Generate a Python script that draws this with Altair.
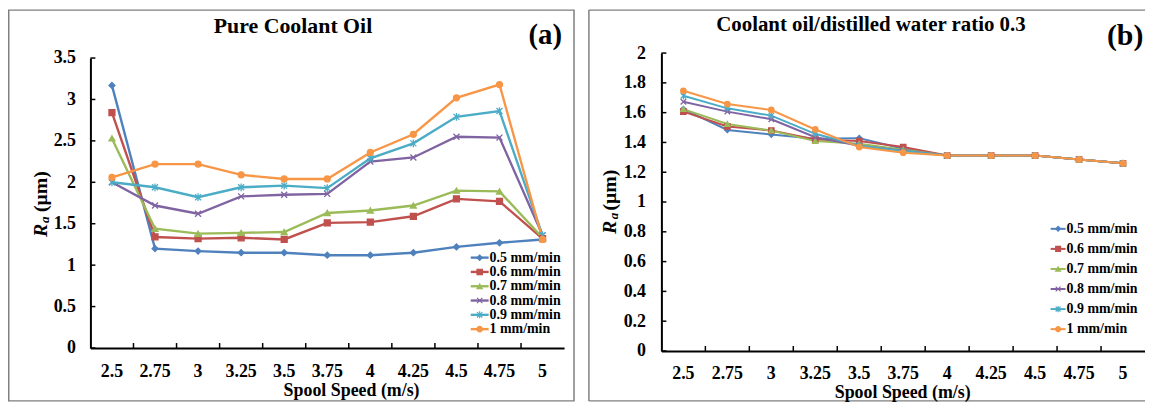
import altair as alt
import pandas as pd

# ---------------- data ----------------
speeds = ["2.5", "2.75", "3", "3.25", "3.5", "3.75", "4", "4.25", "4.5", "4.75", "5"]
series = ["0.5 mm/min", "0.6 mm/min", "0.7 mm/min", "0.8 mm/min", "0.9 mm/min", "1 mm/min"]
colors = ["#4F81BD", "#C0504D", "#9BBB59", "#8064A2", "#4BACC6", "#F79646"]
shapes = ["diamond", "square", "triangle-up",
          "M-1,-1L1,1M-1,1L1,-1",
          "M-1,-1L1,1M-1,1L1,-1M0,-1.3L0,1.3",
          "circle"]

# (a) Pure coolant oil
a_05 = [3.17, 1.20, 1.17, 1.15, 1.15, 1.12, 1.12, 1.15, 1.22, 1.27, 1.31]
a_06 = [2.84, 1.34, 1.32, 1.33, 1.31, 1.51, 1.52, 1.59, 1.80, 1.77, 1.32]
a_07 = [2.53, 1.44, 1.38, 1.39, 1.40, 1.63, 1.66, 1.72, 1.90, 1.89, 1.33]
a_08 = [2.00, 1.72, 1.62, 1.83, 1.85, 1.86, 2.25, 2.30, 2.55, 2.54, 1.36]
a_09 = [2.00, 1.94, 1.82, 1.94, 1.96, 1.93, 2.29, 2.47, 2.79, 2.86, 1.36]
a_10 = [2.06, 2.22, 2.22, 2.09, 2.04, 2.04, 2.36, 2.58, 3.02, 3.18, 1.31]

# (b) Coolant oil / distilled water ratio 0.3
b_05 = [1.624, 1.484, 1.453, 1.425, 1.429, 1.358, 1.312, 1.312, 1.312, 1.286, 1.260]
b_06 = [1.607, 1.507, 1.480, 1.420, 1.409, 1.369, 1.312, 1.312, 1.312, 1.286, 1.260]
b_07 = [1.624, 1.524, 1.480, 1.409, 1.391, 1.351, 1.312, 1.312, 1.312, 1.286, 1.260]
b_08 = [1.673, 1.607, 1.556, 1.435, 1.378, 1.345, 1.312, 1.312, 1.312, 1.286, 1.260]
b_09 = [1.713, 1.629, 1.580, 1.458, 1.378, 1.342, 1.312, 1.312, 1.312, 1.286, 1.260]
b_10 = [1.747, 1.658, 1.618, 1.487, 1.369, 1.331, 1.312, 1.312, 1.312, 1.286, 1.260]

a_ticks = [0, 0.5, 1, 1.5, 2, 2.5, 3, 3.5]
b_ticks = [0, 0.2, 0.4, 0.6, 0.8, 1, 1.2, 1.4, 1.6, 1.8, 2]

FONT = "Liberation Serif"
BOX = "#7f7f7f"
W, H = 1145, 395          # whole drawing area (page minus 8px margin)


def long_df(values):
    rows = []
    for s, vals in zip(series, values):
        for sp, v in zip(speeds, vals):
            rows.append({"speed": sp, "series": s, "ra": v})
    return pd.DataFrame(rows)


def one():
    return alt.Chart(alt.Data(values=[{}]))


def text_layer(txt, x, y, size, angle=0, style="normal", align="center"):
    mk = dict(font=FONT, fontSize=size, fontWeight="bold", fontStyle=style,
              color="black", align=align, baseline="middle")
    if angle:
        mk["angle"] = angle
    return one().mark_text(**mk).encode(
        x=alt.value(x), y=alt.value(y), text=alt.value(txt))


def box_layers(g):
    x1, x2, y1, y2 = g["box"]
    if g["closed"]:
        return [one().mark_rect(fillOpacity=0, stroke=BOX, strokeWidth=1.5).encode(
            x=alt.value(x1), x2=alt.value(x2), y=alt.value(y1), y2=alt.value(y2))]
    rule = dict(color=BOX, strokeWidth=1.5)
    return [
        one().mark_rule(**rule).encode(x=alt.value(x1), x2=alt.value(x2), y=alt.value(y1)),
        one().mark_rule(**rule).encode(x=alt.value(x1), x2=alt.value(x2), y=alt.value(y2)),
        one().mark_rule(**rule).encode(x=alt.value(x1), y=alt.value(y1), y2=alt.value(y2)),
    ]


def panel(values, ticks, ymax, g):
    df = long_df(values)
    px0, px1, py0, py1 = g["plot"]          # left, right, top, bottom (pixels)
    cscale = alt.Scale(domain=series, range=colors)
    sscale = alt.Scale(domain=series, range=shapes)
    xscale = alt.Scale(type="band", range=[px0, px1], paddingInner=0, paddingOuter=0)
    xaxis = alt.Axis(title=None, orient="bottom", offset=py1 - H,
                     labelFont=FONT, labelFontSize=18, labelFontWeight="bold",
                     labelColor="black", labelAngle=0, labelPadding=g["xlp"], ticks=False,
                     domainColor="black", domainWidth=2, grid=False, labelOverlap=False)
    yscale = alt.Scale(domain=[0, ymax], range=[py1, py0], nice=False, zero=True)
    yaxis = alt.Axis(title=None, orient="left", offset=-px0, values=ticks, format=".1~f",
                     labelFont=FONT, labelFontSize=18,
                     labelFontWeight="bold", labelColor="black", labelPadding=g["ylp"],
                     ticks=False, domainColor="black", domainWidth=2, grid=False)
    x = alt.X("speed:N", sort=speeds, bandPosition=0.5, scale=xscale, axis=xaxis)
    y = alt.Y("ra:Q", scale=yscale, axis=yaxis)
    color = alt.Color("series:N", scale=cscale, legend=None)
    stroke = alt.Stroke("series:N", scale=cscale, legend=None)
    shape = alt.Shape("series:N", scale=sscale, legend=None)

    ytick_df = pd.DataFrame({"ra": ticks})
    yt = alt.Chart(ytick_df).mark_rule(color="black", strokeWidth=1.5).encode(
        y=y, x=alt.value(px0), x2=alt.value(px0 + 5))
    xtick_df = pd.DataFrame({"speed": speeds[1:]})
    xt = alt.Chart(xtick_df).mark_rule(color="black", strokeWidth=1.5).encode(
        x=alt.X("speed:N", sort=speeds, bandPosition=0, scale=xscale, axis=xaxis),
        y=alt.value(py1), y2=alt.value(py1 - 5))

    lines = alt.Chart(df).mark_line(strokeWidth=g["lw"]).encode(
        x=x, y=y, color=color, detail="series:N")
    pts = alt.Chart(df).mark_point(filled=True, size=g["ms"], strokeWidth=1.3, opacity=1).encode(
        x=x, y=y, color=color, stroke=stroke, shape=shape)

    # legend
    ldf = pd.DataFrame({"series": series})
    lbase = alt.Chart(ldf).transform_window(idx="row_number()").transform_calculate(
        ly=f"{g['ly0']} + (datum.idx - 1) * {g['ldy']}")
    ly = alt.Y("ly:Q", scale=None)
    lx1, lx2 = g["lx"]
    lrule = lbase.mark_rule(strokeWidth=g["lw"]).encode(
        x=alt.value(lx1), x2=alt.value(lx2), y=ly, color=color)
    lpts = lbase.mark_point(filled=True, size=g["ms"] * 0.8, strokeWidth=1.2, opacity=1).encode(
        x=alt.value((lx1 + lx2) / 2), y=ly, color=color, stroke=stroke, shape=shape)
    ltxt = lbase.mark_text(font=FONT, fontSize=14, fontWeight="bold", color="black",
                           align="left", baseline="middle").encode(
        x=alt.value(lx2 + 1), y=ly, text="series:N")

    tx, ty, ts = g["title"]
    gx, gy, gs = g["tag"]
    xx, xy = g["xtitle"]
    rx, ry, ay, uy = g["ytitle"]
    layers = box_layers(g) + [
        yt, xt, lines, pts, lrule, lpts, ltxt,
        text_layer(g["title_text"], tx, ty, ts),
        text_layer(g["tag_text"], gx, gy, gs),
        text_layer("Spool Speed (m/s)", xx, xy, 18),
        text_layer("R", rx, ry, 20, angle=270, style="italic"),
        text_layer("a", rx + 4, ay, 13, angle=270, style="italic"),
        text_layer("(μm)", rx, uy, 20, angle=270)]
    return alt.layer(*layers)


# all positions below are pixels inside the drawing area (page coords - 8)
ga = dict(plot=(83, 560, 49, 341), xlp=15, ylp=15, closed=True, box=(0.75, 570, 0.75, H - 0.75),
          lw=2.4, ms=36, ly0=250, ldy=14.4, lx=(466, 484),
          title_text="Pure Coolant Oil", title=(287, 17, 22),
          tag_text="(a)", tag=(541, 25.5, 29),
          xtitle=(346, 384.5), ytitle=(33.5, 222.5, 212, 183.5))
gb = dict(plot=(658, 1145, 44, 344), xlp=14, ylp=16, closed=False, box=(585, W, 0.75, H - 0.75),
          lw=2.0, ms=30, ly0=221, ldy=20.2, lx=(1050, 1065),
          title_text="Coolant oil/distilled water ratio 0.3", title=(869, 15.5, 21),
          tag_text="(b)", tag=(1125, 26.5, 30),
          xtitle=(901, 386), ytitle=(606.5, 219.5, 208, 182))

pa = panel([a_05, a_06, a_07, a_08, a_09, a_10], a_ticks, 3.5, ga)
pb = panel([b_05, b_06, b_07, b_08, b_09, b_10], b_ticks, 2.0, gb)

chart = alt.layer(pa, pb).resolve_scale(
    x="independent", y="independent"
).properties(
    width=W, height=H, padding=0, autosize=alt.AutoSizeParams(type="none")
).configure_view(stroke="transparent", strokeWidth=0)

chart.save("out.html", embed_options={"renderer": "svg", "actions": False})
